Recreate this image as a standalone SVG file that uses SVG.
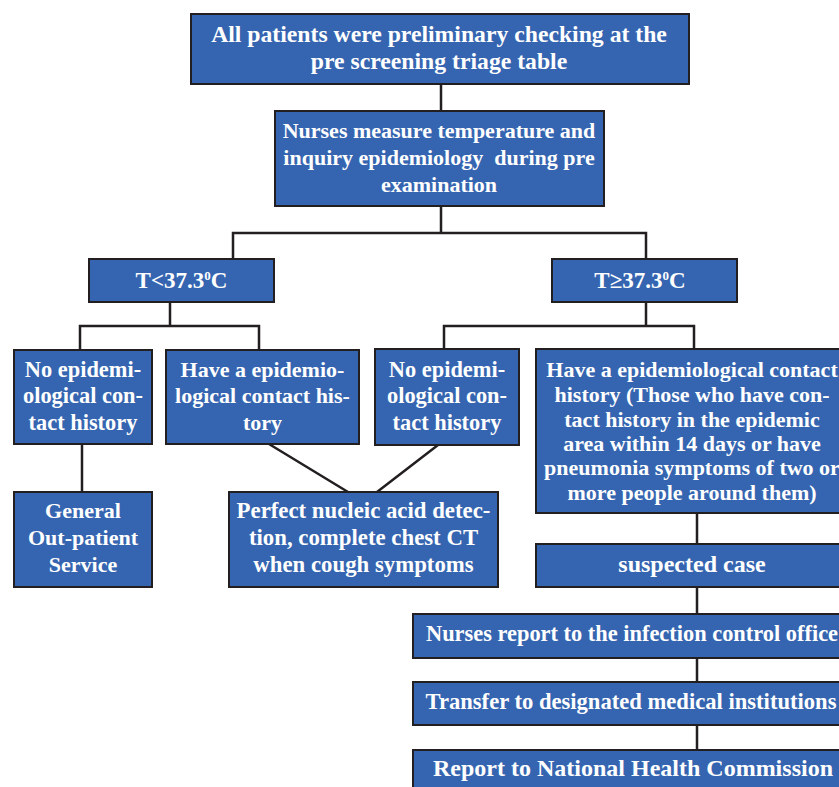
<svg xmlns="http://www.w3.org/2000/svg" width="839" height="787" viewBox="0 0 839 787">
<style>
.b{fill:#3565b0;stroke:#231f20;stroke-width:2}
.t{font-family:"Liberation Serif","Times New Roman",serif;font-weight:bold;font-size:22px;fill:#fff;text-anchor:middle}
.c{fill:none;stroke:#231f20;stroke-width:2.5}
</style>
<rect width="839" height="787" fill="#fff"/>
<g id="connectors" class="c">
<path d="M441 84V111"/>
<path d="M441 206V233M233 259V233H646V259"/>
<path d="M170 302V326M80 350V326H259V350"/>
<path d="M646 302V326M444 349V326H694V349"/>
<path d="M82 444V492"/>
<path d="M269 444L348 492M438 445L377 492"/>
<path d="M697 513V544M697 587V614M697 658V682M697 725V750"/>
</g>
<g id="n1"><rect class="b" x="191" y="14" width="498" height="70"/>
<text class="t" x="439" y="42" style="font-size:23.7px">All patients were preliminary checking at the</text>
<text class="t" x="439" y="69" style="font-size:23.7px">pre screening triage table</text></g>
<g id="n2"><rect class="b" x="275" y="111" width="329" height="95"/>
<text class="t" x="439" y="138">Nurses measure temperature and</text>
<text class="t" x="439" y="165" style="white-space:pre">inquiry epidemiology  during pre</text>
<text class="t" x="439" y="192">examination</text></g>
<g id="n3"><rect class="b" x="89" y="259" width="185" height="43"/>
<text class="t" x="181.5" y="288" style="font-size:23px">T&lt;37.3<tspan style="font-size:13px" dy="-8">0</tspan><tspan dy="8">C</tspan></text></g>
<g id="n4"><rect class="b" x="552" y="259" width="185" height="43"/>
<text class="t" x="640" y="288" style="font-size:23px">T≥37.3<tspan style="font-size:13px" dy="-8">0</tspan><tspan dy="8">C</tspan></text></g>
<g id="n5"><rect class="b" x="14" y="350" width="138" height="94"/>
<text class="t" x="83" y="377" style="font-size:22.4px">No epidemi-</text>
<text class="t" x="83" y="403" style="font-size:22.4px">ological con-</text>
<text class="t" x="83" y="430" style="font-size:22.4px">tact history</text></g>
<g id="n6"><rect class="b" x="166" y="350" width="193" height="94"/>
<text class="t" x="262.5" y="377">Have a epidemio-</text>
<text class="t" x="262.5" y="403">logical contact his-</text>
<text class="t" x="262.5" y="430">tory</text></g>
<g id="n7"><rect class="b" x="375" y="349" width="144" height="96"/>
<text class="t" x="447" y="377" style="font-size:22.4px">No epidemi-</text>
<text class="t" x="447" y="403" style="font-size:22.4px">ological con-</text>
<text class="t" x="447" y="430" style="font-size:22.4px">tact history</text></g>
<g id="n8"><rect class="b" x="536" y="349" width="310" height="164"/>
<text class="t" x="692" y="377">Have a epidemiological contact</text>
<text class="t" x="692" y="402">history (Those who have con-</text>
<text class="t" x="692" y="427">tact history in the epidemic</text>
<text class="t" x="692" y="451">area within 14 days or have</text>
<text class="t" x="692" y="475">pneumonia symptoms of two or</text>
<text class="t" x="692" y="500">more people around them)</text></g>
<g id="n9"><rect class="b" x="14" y="492" width="138" height="95"/>
<text class="t" x="83" y="518">General</text>
<text class="t" x="83" y="545">Out-patient</text>
<text class="t" x="83" y="572">Service</text></g>
<g id="n10"><rect class="b" x="229" y="492" width="269" height="95"/>
<text class="t" x="363.5" y="518" style="font-size:22.8px">Perfect nucleic acid detec-</text>
<text class="t" x="363.5" y="545" style="font-size:22.8px">tion, complete chest CT</text>
<text class="t" x="363.5" y="572" style="font-size:22.8px">when cough symptoms</text></g>
<g id="n11"><rect class="b" x="536" y="544" width="310" height="43"/>
<text class="t" x="692" y="572" style="font-size:24px">suspected case</text></g>
<g id="n12"><rect class="b" x="413" y="614" width="433" height="44"/>
<text class="t" x="632" y="641" style="font-size:22.4px">Nurses report to the infection control office</text></g>
<g id="n13"><rect class="b" x="413" y="682" width="433" height="43"/>
<text class="t" x="631" y="709" style="font-size:22.6px">Transfer to designated medical institutions</text></g>
<g id="n14"><rect class="b" x="413" y="750" width="433" height="45"/>
<text class="t" x="633" y="776" style="font-size:24px">Report to National Health Commission</text></g>
</svg>
